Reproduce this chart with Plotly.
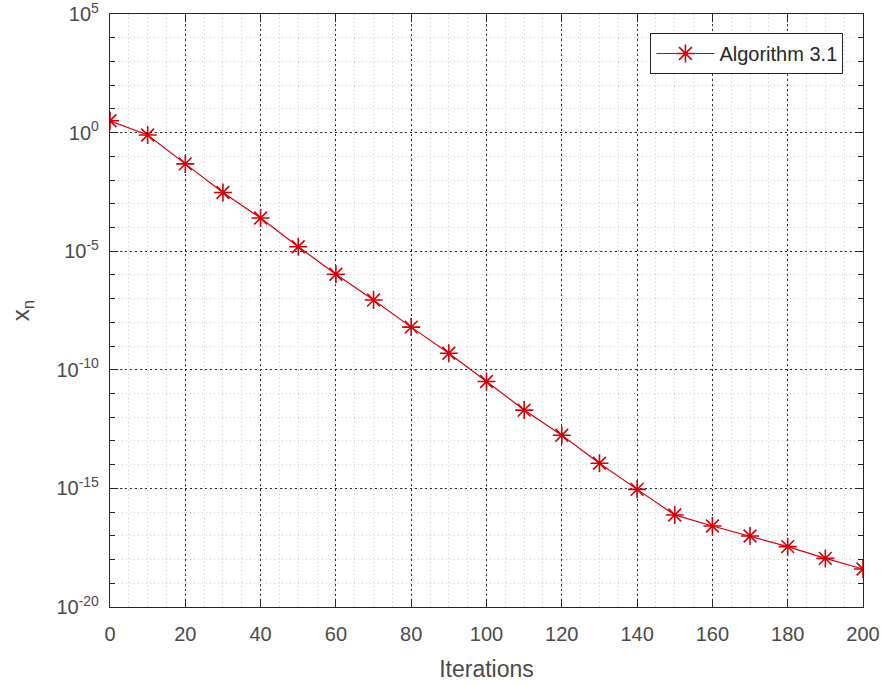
import plotly.graph_objects as go

iterations = [0, 10, 20, 30, 40, 50, 60, 70, 80, 90, 100,
              110, 120, 130, 140, 150, 160, 170, 180, 190, 200]
xn_values = [3.16, 0.79, 4.8e-2, 3.0e-3, 2.5e-4, 1.55e-5, 1.07e-6, 8.7e-8,
             6.3e-9, 5.0e-10, 3.2e-11, 2.0e-12, 1.74e-13, 1.15e-14, 9.1e-16,
             7.6e-17, 2.6e-17, 9.8e-18, 3.5e-18, 1.12e-18, 4.0e-19]
series_name = "Algorithm 3.1"
x_ticks = [0, 20, 40, 60, 80, 100, 120, 140, 160, 180, 200]
y_tick_vals = [1e-20, 1e-15, 1e-10, 1e-5, 1e0, 1e5]
y_tick_text = ["10<sup>-20</sup>", "10<sup>-15</sup>", "10<sup>-10</sup>",
               "10<sup>-5</sup>", "10<sup>0</sup>", "10<sup>5</sup>"]

font_family = "Liberation Sans, Arial, sans-serif"
tick_color = "#4a4a4a"
axis_color = "#262626"

fig = go.Figure()
fig.add_trace(go.Scatter(
    x=iterations, y=xn_values, name=series_name, mode="lines+markers",
    line=dict(color="#d4000a", width=1.2),
    marker=dict(symbol="asterisk-open", size=15,
                line=dict(color="#ff0000", width=1.6)),
))

fig.update_layout(
    width=881, height=686,
    margin=dict(l=110, r=18, t=14, b=79),
    paper_bgcolor="white", plot_bgcolor="white",
    font=dict(family=font_family, size=20, color=tick_color),
    showlegend=True,
    legend=dict(x=0.974, y=0.968, xanchor="right", yanchor="top",
                bgcolor="white", bordercolor=axis_color, borderwidth=1,
                font=dict(size=20, color="#262626"),
                tracegroupgap=0, itemwidth=58),
)

fig.update_xaxes(
    range=[0, 200], tickvals=x_ticks, automargin=False,
    showline=True, linecolor=axis_color, linewidth=1.2, mirror="ticks",
    ticks="inside", ticklen=8, tickcolor=axis_color,
    showgrid=True, gridcolor="#2a2a2a", griddash="1.5px,3.5px", gridwidth=1.3,
    minor=dict(dtick=5, showgrid=True, gridcolor="#cccccc", griddash="1px,3px",
               ticks=""),
    zeroline=False, ticklabelstandoff=9, ticklabeloverflow="allow",
    title=dict(text="Iterations", font=dict(size=23, color=tick_color), standoff=16),
    tickfont=dict(size=20, color=tick_color),
)

fig.update_yaxes(
    type="log", range=[-20, 5], automargin=False,
    tickvals=y_tick_vals, ticktext=y_tick_text,
    showline=True, linecolor=axis_color, linewidth=1.2, mirror="ticks",
    ticks="inside", ticklen=8, tickcolor=axis_color,
    showgrid=True, gridcolor="#2a2a2a", griddash="1.5px,3.5px", gridwidth=1.3,
    minor=dict(dtick=1, showgrid=True, gridcolor="#cccccc", griddash="1px,3px",
               ticks="inside", ticklen=5, tickcolor=axis_color),
    zeroline=False, ticklabelstandoff=6, ticklabeloverflow="allow",
    title=dict(text="x<sub>n</sub>", font=dict(size=24, color=tick_color), standoff=20),
    tickfont=dict(size=20, color=tick_color),
)

fig.write_html("out.html",
               config={"displayModeBar": False},
               post_script="document.body.style.margin='0';"
                           "document.body.style.overflow='hidden';")
